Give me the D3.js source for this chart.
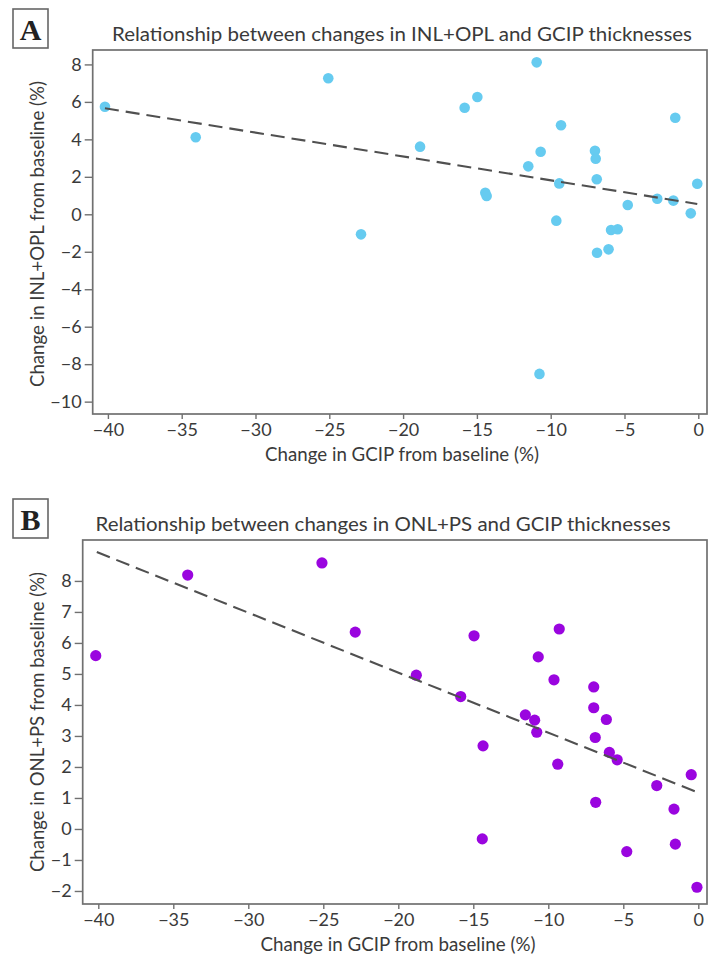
<!DOCTYPE html>
<html>
<head>
<meta charset="utf-8">
<script src="https://cdn.jsdelivr.net/npm/d3@7"></script>
<style>
  html, body { margin: 0; padding: 0; background: #fff; }
  svg { display: block; }
</style>
</head>
<body>
<svg id="chart" width="708" height="957"></svg>
<script>
// ---------- DATA ----------
const xTickValues = [-40, -35, -30, -25, -20, -15, -10, -5, 0];
const yTicksA = [-10, -8, -6, -4, -2, 0, 2, 4, 6, 8];
const yTicksB = [-2, -1, 0, 1, 2, 3, 4, 5, 6, 7, 8];

// Panel A: GCIP change vs INL+OPL change
const gcipA = [-40.2, -34.05, -25.07, -22.85, -18.85, -15.83, -14.97, -14.43, -14.34, -10.95,
               -11.52, -10.68, -10.76, -9.62, -9.30, -9.42, -7.0, -6.95, -6.88, -6.86,
               -6.08, -5.91, -5.46, -4.78, -2.78, -1.69, -1.56, -0.51, -0.07];
const inlOpl = [5.74, 4.11, 7.26, -1.07, 3.61, 5.69, 6.26, 1.15, 0.98, 8.11,
                2.56, 3.34, -8.52, -0.34, 4.75, 1.65, 3.39, 2.97, 1.87, -2.05,
                -1.87, -0.84, -0.80, 0.50, 0.83, 0.73, 5.15, 0.05, 1.63];
const trendAx = [-40.2, -0.07];
const trendAy = [5.66, 0.55];

// Panel B: GCIP change vs ONL+PS change
const gcipB = [-40.17, -34.04, -25.09, -22.87, -18.8, -15.84, -14.95, -14.35, -14.4, -11.53,
               -10.91, -10.77, -10.67, -9.62, -9.27, -9.37, -6.97, -6.97, -6.87, -6.84,
               -6.13, -5.93, -5.41, -4.77, -2.77, -1.62, -1.53, -0.47, -0.09];
const onlPs = [5.59, 8.19, 8.58, 6.35, 4.96, 4.27, 6.23, 2.68, -0.32, 3.68,
               3.51, 3.12, 5.55, 4.81, 6.45, 2.09, 4.58, 3.91, 2.95, 0.86,
               3.53, 2.47, 2.23, -0.73, 1.40, 0.64, -0.49, 1.75, -1.88];
const trendBx = [-40.1, -0.04];
const trendBy = [8.93, 1.18];

// ---------- DRAWING ----------
const svg = d3.select("#chart");
const FONT = "Lato, 'Open Sans', sans-serif";
const TEXT = "#3a3a3a";
const FRAME = "#707070";

function panel(cfg) {
  const g = svg.append("g");
  const x = d3.scaleLinear().domain(cfg.xDomain).range([cfg.left, cfg.right]);
  const y = d3.scaleLinear().domain(cfg.yDomain).range([cfg.bottom, cfg.top]);

  // letter box
  g.append("rect")
    .attr("x", cfg.box[0]).attr("y", cfg.box[1])
    .attr("width", 35).attr("height", 39)
    .attr("fill", "none").attr("stroke", "#666").attr("stroke-width", 1.6);
  g.append("text")
    .attr("x", cfg.box[0] + 17.5).attr("y", cfg.box[1] + 31)
    .attr("text-anchor", "middle")
    .attr("font-family", "'Liberation Serif', 'DejaVu Serif', serif")
    .attr("font-weight", "bold").attr("font-size", 30)
    .attr("fill", "#222")
    .text(cfg.letter);

  // title
  g.append("text")
    .attr("x", cfg.titleX).attr("y", cfg.titleY)
    .attr("text-anchor", "middle")
    .attr("font-family", FONT).attr("font-size", 19.5)
    .attr("fill", TEXT)
    .attr("textLength", cfg.titleW).attr("lengthAdjust", "spacingAndGlyphs")
    .text(cfg.title);

  // axes
  const xAxis = d3.axisBottom(x).tickValues(xTickValues).tickSize(5).tickPadding(4);
  const gx = g.append("g").attr("transform", `translate(0,${cfg.bottom})`).call(xAxis);
  const yAxis = d3.axisLeft(y).tickValues(cfg.yTicks).tickSize(8).tickPadding(3);
  const gy = g.append("g").attr("transform", `translate(${cfg.left},0)`).call(yAxis);
  [gx, gy].forEach(a => {
    a.select(".domain").remove();
    a.selectAll(".tick line").attr("stroke", FRAME).attr("stroke-width", 1.4);
    a.selectAll(".tick text").attr("fill", TEXT)
      .attr("font-family", FONT).attr("font-size", 18);
  });

  // frame
  g.append("rect")
    .attr("x", cfg.left).attr("y", cfg.top)
    .attr("width", cfg.right - cfg.left).attr("height", cfg.bottom - cfg.top)
    .attr("fill", "none").attr("stroke", FRAME).attr("stroke-width", 1.7);

  // points
  g.append("g").selectAll("circle")
    .data(cfg.xs.map((v, i) => [v, cfg.ys[i]]))
    .join("circle")
    .attr("cx", d => x(d[0])).attr("cy", d => y(d[1]))
    .attr("r", cfg.r).attr("fill", cfg.color);

  // trend line
  const line = d3.line().x(d => x(d[0])).y(d => y(d[1]));
  g.append("path")
    .datum(cfg.tx.map((v, i) => [v, cfg.ty[i]]))
    .attr("d", line)
    .attr("fill", "none").attr("stroke", "#505050").attr("stroke-width", 2.1)
    .attr("stroke-dasharray", "14,7");

  // axis labels
  g.append("text")
    .attr("x", cfg.xLabelX).attr("y", cfg.xLabelY)
    .attr("text-anchor", "middle")
    .attr("font-family", FONT).attr("font-size", 18.5).attr("fill", TEXT)
    .attr("textLength", cfg.xLabelW).attr("lengthAdjust", "spacingAndGlyphs")
    .text("Change in GCIP from baseline (%)");
  g.append("text")
    .attr("transform", `translate(${cfg.yLabelX},${cfg.yLabelY}) rotate(-90)`)
    .attr("text-anchor", "middle")
    .attr("font-family", FONT).attr("font-size", 18.5).attr("fill", TEXT)
    .attr("textLength", cfg.yLabelW).attr("lengthAdjust", "spacingAndGlyphs")
    .text(cfg.yLabel);
}

panel({
  letter: "A", box: [13, 9],
  title: "Relationship between changes in INL+OPL and GCIP thicknesses",
  titleX: 402, titleY: 41, titleW: 580,
  left: 92.7, right: 707, top: 50, bottom: 414,
  xDomain: [-41.03, 0.59], yDomain: [-10.66, 8.77],
  yTicks: yTicksA,
  xs: gcipA, ys: inlOpl, tx: trendAx, ty: trendAy,
  color: "#66cbf0", r: 5.3,
  xLabelX: 402, xLabelY: 461, xLabelW: 274,
  yLabel: "Change in INL+OPL from baseline (%)",
  yLabelX: 44, yLabelY: 234, yLabelW: 306
});

panel({
  letter: "B", box: [13, 499],
  title: "Relationship between changes in ONL+PS and GCIP thicknesses",
  titleX: 383, titleY: 531, titleW: 575,
  left: 82.7, right: 707, top: 540, bottom: 904,
  xDomain: [-41.04, 0.58], yDomain: [-2.42, 9.32],
  yTicks: yTicksB,
  xs: gcipB, ys: onlPs, tx: trendBx, ty: trendBy,
  color: "#9a05df", r: 5.6,
  xLabelX: 398, xLabelY: 951, xLabelW: 275,
  yLabel: "Change in ONL+PS from baseline (%)",
  yLabelX: 44, yLabelY: 722, yLabelW: 300
});
</script>
</body>
</html>
